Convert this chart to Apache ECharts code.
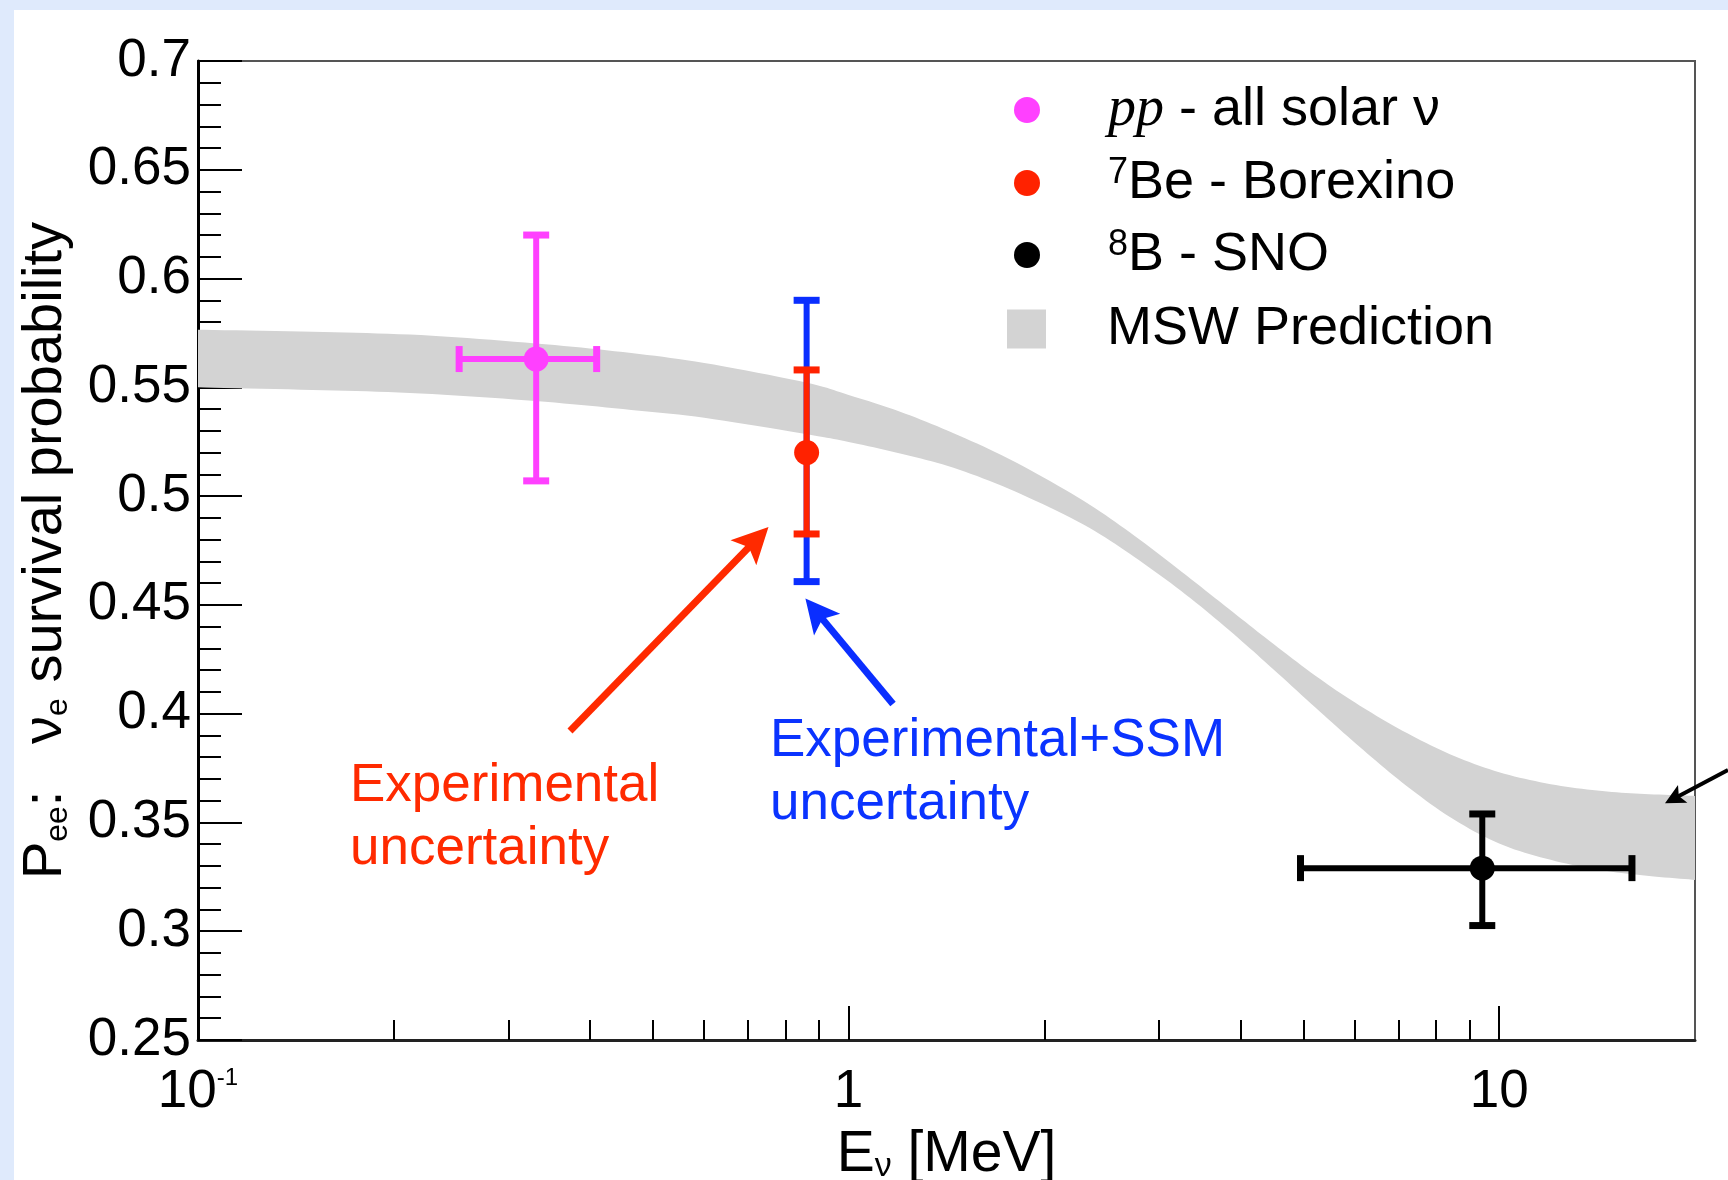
<!DOCTYPE html>
<html>
<head>
<meta charset="utf-8">
<script src="https://cdn.jsdelivr.net/npm/echarts@6/dist/echarts.min.js"></script>
<style>
  html, body { margin: 0; padding: 0; background: #dfeafc; }
  #chart { width: 1728px; height: 1180px; }
</style>
</head>
<body>
<div id="chart"></div>
<script>
// MSW prediction band: neutrino energy (MeV) with lower / upper survival probability
const bandEnergy = [0.1, 0.15, 0.22, 0.33, 0.45, 0.6, 0.86, 1.0, 1.2, 1.45, 1.8, 2.3, 2.75, 3.3, 3.9, 4.5, 5.3, 6.1, 7.1, 8.4, 10, 12, 14.4, 17, 20];
const bandLow  = [0.5500, 0.5488, 0.5472, 0.5437, 0.5400, 0.5360, 0.5285, 0.5249, 0.5196, 0.5130, 0.5022, 0.4868, 0.4720, 0.4547, 0.4368, 0.4203, 0.4010, 0.3848, 0.3683, 0.3525, 0.3403, 0.3328, 0.3280, 0.3254, 0.3236];
const bandHigh = [0.5765, 0.5755, 0.5740, 0.5702, 0.5662, 0.5612, 0.5522, 0.5465, 0.5388, 0.5289, 0.5158, 0.4977, 0.4818, 0.4637, 0.4466, 0.4320, 0.4160, 0.4038, 0.3922, 0.3814, 0.3731, 0.3676, 0.3644, 0.3630, 0.3622];

// pp - all solar neutrinos
const ppEnergy = [0.331];
const ppProb = [0.563];
const ppEnergyRange = [[0.252, 0.410]];
const ppProbRange = [[0.507, 0.620]];

// 7Be - Borexino (experimental and experimental+SSM uncertainty)
const beEnergy = [0.862];
const beProb = [0.520];
const beExpRange = [[0.4826, 0.558]];
const beTotalRange = [[0.4607, 0.590]];

// 8B - SNO
const b8Energy = [9.42];
const b8Prob = [0.329];
const b8EnergyRange = [[4.95, 16.0]];
const b8ProbRange = [[0.3026, 0.3539]];

// axis ticks
const energyMajorTicks = [0.1, 1, 10];
const energyMinorTicks = [0.2, 0.3, 0.4, 0.5, 0.6, 0.7, 0.8, 0.9, 2, 3, 4, 5, 6, 7, 8, 9];

const SANS = "'Liberation Sans', Arial, Helvetica, sans-serif";
const SERIF = "'Liberation Serif', 'Times New Roman', serif";

// rows: [E, P, Elow, Ehigh, Plow, Phigh]
function rows(energy, prob, eRange, pRange) {
  return energy.map((e, i) => [
    e, prob[i],
    eRange ? eRange[i][0] : e, eRange ? eRange[i][1] : e,
    pRange[i][0], pRange[i][1]
  ]);
}

function errorBarRenderer(color, withDot) {
  return function (params, api) {
    const x = api.value(0), y = api.value(1);
    const eLo = api.value(2), eHi = api.value(3);
    const pLo = api.value(4), pHi = api.value(5);
    const c = api.coord([x, y]);
    const top = api.coord([x, pHi]);
    const bot = api.coord([x, pLo]);
    const barStyle = { stroke: color, lineWidth: 6, fill: null };
    const capStyle = { stroke: color, lineWidth: 7, fill: null };
    const cap = 13;
    const children = [
      { type: 'line', shape: { x1: c[0], y1: top[1], x2: c[0], y2: bot[1] }, style: barStyle },
      { type: 'line', shape: { x1: c[0] - cap, y1: top[1], x2: c[0] + cap, y2: top[1] }, style: capStyle },
      { type: 'line', shape: { x1: c[0] - cap, y1: bot[1], x2: c[0] + cap, y2: bot[1] }, style: capStyle }
    ];
    if (eHi > eLo) {
      const l = api.coord([eLo, y]);
      const r = api.coord([eHi, y]);
      children.push(
        { type: 'line', shape: { x1: l[0], y1: c[1], x2: r[0], y2: c[1] }, style: barStyle },
        { type: 'line', shape: { x1: l[0], y1: c[1] - cap, x2: l[0], y2: c[1] + cap }, style: capStyle },
        { type: 'line', shape: { x1: r[0], y1: c[1] - cap, x2: r[0], y2: c[1] + cap }, style: capStyle }
      );
    }
    if (withDot) {
      children.push({ type: 'circle', shape: { cx: c[0], cy: c[1], r: 12.5 }, style: { fill: color } });
    }
    return { type: 'group', children: children };
  };
}

// Catmull-Rom smoothing of a polyline in screen space (rendering only)
function smoothEdge(pts, steps) {
  const out = [];
  for (let i = 0; i < pts.length - 1; i++) {
    const p0 = pts[Math.max(i - 1, 0)], p1 = pts[i], p2 = pts[i + 1], p3 = pts[Math.min(i + 2, pts.length - 1)];
    for (let s = 0; s < steps; s++) {
      const t = s / steps, t2 = t * t, t3 = t2 * t;
      const f = (a, b, c, d) => 0.5 * ((2 * b) + (-a + c) * t + (2 * a - 5 * b + 4 * c - d) * t2 + (-a + 3 * b - 3 * c + d) * t3);
      out.push([f(p0[0], p1[0], p2[0], p3[0]), f(p0[1], p1[1], p2[1], p3[1])]);
    }
  }
  out.push(pts[pts.length - 1]);
  return out;
}

function bandRenderer(params, api) {
  if (params.dataIndex !== 0) return null;
  const hi = bandEnergy.map((e, i) => api.coord([e, bandHigh[i]]));
  const lo = bandEnergy.map((e, i) => api.coord([e, bandLow[i]]));
  const pts = smoothEdge(hi, 10).concat(smoothEdge(lo, 10).reverse());
  return { type: 'polygon', shape: { points: pts }, style: { fill: '#d3d3d3' } };
}

// arrow annotation built from a shaft and a notched head
function arrow(x1, y1, x2, y2, color, width, headLen, headHalf) {
  const dx = x2 - x1, dy = y2 - y1, L = Math.hypot(dx, dy);
  const ux = dx / L, uy = dy / L, nx = -uy, ny = ux;
  const bx = x2 - ux * headLen, by = y2 - uy * headLen;
  const kx = x2 - ux * headLen * 0.78, ky = y2 - uy * headLen * 0.78;
  return [
    { type: 'line', z: 100, silent: true,
      shape: { x1: x1, y1: y1, x2: kx + ux * 2, y2: ky + uy * 2 },
      style: { stroke: color, lineWidth: width } },
    { type: 'polygon', z: 100, silent: true,
      shape: { points: [[x2, y2], [bx + nx * headHalf, by + ny * headHalf], [kx, ky], [bx - nx * headHalf, by - ny * headHalf]] },
      style: { fill: color } }
  ];
}

const legendLabels = {
  pp: '{sp| }{it|pp}{t| - all solar ν}',
  Be7: '{sp| }{sup|7}{t|Be - Borexino}',
  B8: '{sp| }{sup|8}{t|B - SNO}',
  MSW: '{sp2| }{t|MSW Prediction}'
};
const legendRich = {
  sp: { width: 63 },
  sp2: { width: 56 },
  t: { fontFamily: SANS, fontSize: 54, lineHeight: 56, color: '#000' },
  it: { fontFamily: SERIF, fontStyle: 'italic', fontSize: 56, lineHeight: 56, color: '#000' },
  sup: { fontFamily: SANS, fontSize: 36, lineHeight: 16, verticalAlign: 'top', color: '#000' }
};

const chart = echarts.init(document.getElementById('chart'), null, { renderer: 'canvas' });

const option = {
  animation: false,
  backgroundColor: '#dfeafc',
  grid: {
    left: 198, top: 61, width: 1497, height: 979,
    show: true, borderColor: '#555', borderWidth: 2, backgroundColor: 'transparent',
    containLabel: false, outerBoundsMode: 'none'
  },
  legend: [
    {
      orient: 'vertical', left: 1014, top: 82, padding: 0,
      itemWidth: 26, itemHeight: 26, itemGap: 17, selectedMode: false,
      data: [{ name: 'pp', icon: 'circle' }, { name: 'Be7', icon: 'circle' }, { name: 'B8', icon: 'circle' }],
      formatter: name => legendLabels[name],
      textStyle: { rich: legendRich, fontFamily: SANS, fontSize: 54, color: '#000' }
    },
    {
      orient: 'vertical', left: 1007, top: 302, padding: 0,
      itemWidth: 39, itemHeight: 39, selectedMode: false,
      data: [{ name: 'MSW', icon: 'rect' }],
      formatter: name => legendLabels[name],
      textStyle: { rich: legendRich, fontFamily: SANS, fontSize: 54, color: '#000' }
    }
  ],
  xAxis: [
    {
      type: 'log', logBase: 10, min: 0.1, max: 20, position: 'bottom',
      name: '{t|E}{sub|ν}{t| [MeV]}',
      nameLocation: 'middle', nameGap: 87, nameMoveOverlap: false,
      nameTextStyle: {
        fontFamily: SANS, fontSize: 57, color: '#000',
        rich: {
          t: { fontFamily: SANS, fontSize: 57, lineHeight: 57, color: '#000' },
          sub: { fontFamily: SANS, fontSize: 34, lineHeight: 31, verticalAlign: 'bottom', color: '#000' }
        }
      },
      axisLine: { show: true, lineStyle: { color: '#222', width: 3 } },
      axisTick: { show: true, inside: true, length: 34, customValues: energyMajorTicks, lineStyle: { color: '#000', width: 2 } },
      axisLabel: {
        show: true, customValues: energyMajorTicks, margin: 26, hideOverlap: false,
        showMinLabel: true, showMaxLabel: true,
        fontFamily: SANS, fontSize: 53, color: '#000',
        formatter: function (v) {
          const p = Math.round(Math.log10(v));
          if (p === 0) return '{m|1}';
          if (p === 1) return '{m|10}';
          return '{m|10}{sup|' + p + '}';
        },
        rich: {
          m: { fontFamily: SANS, fontSize: 53, lineHeight: 53, color: '#000' },
          sup: { fontFamily: SANS, fontSize: 24, lineHeight: 28, verticalAlign: 'top', color: '#000' }
        }
      },
      splitLine: { show: false }
    },
    {
      type: 'log', logBase: 10, min: 0.1, max: 20, position: 'bottom',
      axisLine: { show: false },
      axisTick: { show: true, inside: true, length: 20, customValues: energyMinorTicks, lineStyle: { color: '#000', width: 2 } },
      axisLabel: { show: false },
      splitLine: { show: false }
    }
  ],
  yAxis: {
    type: 'value', min: 0.25, max: 0.7, interval: 0.05,
    name: '{t|P}{sub|ee}{t|:   ν}{sub|e}{t| survival probability}',
    nameLocation: 'middle', nameRotate: 90, nameGap: 124, nameMoveOverlap: false,
    nameTextStyle: {
      fontFamily: SANS, fontSize: 56, color: '#000',
      rich: {
        t: { fontFamily: SANS, fontSize: 56, lineHeight: 57, color: '#000' },
        sub: { fontFamily: SANS, fontSize: 32, lineHeight: 31, verticalAlign: 'bottom', color: '#000' }
      }
    },
    axisLine: { show: true, lineStyle: { color: '#000', width: 3 } },
    axisTick: { show: true, inside: true, length: 44, lineStyle: { color: '#000', width: 2 } },
    minorTick: { show: true, splitNumber: 5, length: 23, lineStyle: { color: '#000', width: 2 } },
    axisLabel: { margin: 7, fontFamily: SANS, fontSize: 53, color: '#000', hideOverlap: false },
    splitLine: { show: false },
    minorSplitLine: { show: false }
  },
  series: [
    {
      name: 'MSW', type: 'custom', coordinateSystem: 'cartesian2d', xAxisIndex: 0, yAxisIndex: 0,
      z: 1, silent: true, clip: true,
      itemStyle: { color: '#d3d3d3' },
      data: bandEnergy.map((e, i) => [e, bandLow[i], bandHigh[i]]),
      encode: { x: 0, y: [1, 2] },
      renderItem: bandRenderer
    },
    {
      name: 'pp', type: 'custom', coordinateSystem: 'cartesian2d', z: 3, silent: true, clip: true,
      itemStyle: { color: '#ff40ff' },
      data: rows(ppEnergy, ppProb, ppEnergyRange, ppProbRange),
      encode: { x: [0, 2, 3], y: [1, 4, 5] },
      renderItem: errorBarRenderer('#ff40ff', true)
    },
    {
      name: 'Be7 total', type: 'custom', coordinateSystem: 'cartesian2d', z: 3, silent: true, clip: true,
      itemStyle: { color: '#0a2eff' },
      data: rows(beEnergy, beProb, null, beTotalRange),
      encode: { x: [0, 2, 3], y: [1, 4, 5] },
      renderItem: errorBarRenderer('#0a2eff', false)
    },
    {
      name: 'Be7', type: 'custom', coordinateSystem: 'cartesian2d', z: 4, silent: true, clip: true,
      itemStyle: { color: '#ff2200' },
      data: rows(beEnergy, beProb, null, beExpRange),
      encode: { x: [0, 2, 3], y: [1, 4, 5] },
      renderItem: errorBarRenderer('#ff2200', true)
    },
    {
      name: 'B8', type: 'custom', coordinateSystem: 'cartesian2d', z: 3, silent: true, clip: true,
      itemStyle: { color: '#000000' },
      data: rows(b8Energy, b8Prob, b8EnergyRange, b8ProbRange),
      encode: { x: [0, 2, 3], y: [1, 4, 5] },
      renderItem: errorBarRenderer('#000000', true)
    }
  ],
  graphic: [
    { type: 'rect', z: -100, silent: true, shape: { x: 14, y: 10, width: 1714, height: 1170 }, style: { fill: '#ffffff' } },
    { type: 'text', z: 100, silent: true,
      style: { text: 'Experimental\nuncertainty', x: 350, y: 755, font: '53px ' + SANS, fill: '#ff2a00', lineHeight: 63, verticalAlign: 'top', align: 'left' } },
    { type: 'text', z: 100, silent: true,
      style: { text: 'Experimental+SSM\nuncertainty', x: 770, y: 710, font: '53px ' + SANS, fill: '#0a33ff', lineHeight: 63, verticalAlign: 'top', align: 'left' } }
  ]
    .concat(arrow(570, 731, 768.5, 527, '#ff2a00', 7, 36, 18))
    .concat(arrow(893, 704, 805.4, 598.5, '#0a2eff', 7, 34, 17))
    .concat(arrow(1728, 770, 1665, 803.3, '#000000', 4, 20, 10))
};

chart.setOption(option);
</script>
</body>
</html>
